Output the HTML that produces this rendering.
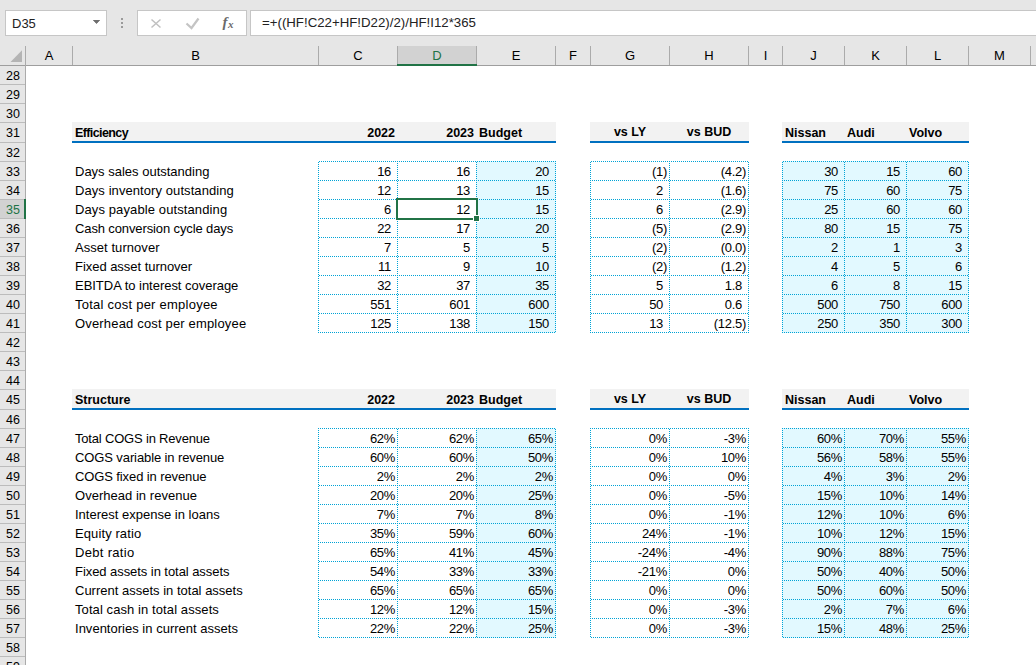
<!DOCTYPE html>
<html><head><meta charset="utf-8"><style>
html,body{margin:0;padding:0;}
body{width:1036px;height:665px;overflow:hidden;position:relative;background:#fff;font-family:'Liberation Sans', Arial, sans-serif;}
body>div{position:absolute;}
.t{white-space:nowrap;}
</style></head><body>
<div style="left:0px;top:0px;width:1036px;height:665px;background:#e6e6e6;"></div>
<div style="left:5px;top:10px;width:100px;height:24px;background:#fff;border:1px solid #c6c6c6"></div>
<div class="t" style="left:12px;top:16.00px;font-size:13px;line-height:15px;font-weight:normal;color:#222;font-family:'Liberation Sans', Arial, sans-serif;">D35</div>
<svg style="position:absolute;left:0;top:0" width="1036" height="46"><polygon points="93,20 100,20 96.5,23.8" fill="#6e6e6e"/><rect x="121" y="18" width="2" height="2" fill="#9a9a9a"/><rect x="121" y="22" width="2" height="2" fill="#9a9a9a"/><rect x="121" y="26" width="2" height="2" fill="#9a9a9a"/><path d="M151.5,19.5 L160.5,27.5 M160.5,19.5 L151.5,27.5" stroke="#c0c0c0" stroke-width="1.5" fill="none"/><path d="M186.5,23.5 L191.5,28 L198.5,18.5" stroke="#c4c4c4" stroke-width="2.2" fill="none"/></svg>
<div style="left:137px;top:10px;width:108px;height:24px;background:#fff;border:1px solid #c6c6c6"></div>
<div style="left:250px;top:10px;width:800px;height:24px;background:#fff;border:1px solid #c6c6c6"></div>
<svg style="position:absolute;left:0;top:0" width="1036" height="46"><polygon points="93,20 100,20 96.5,23.8" fill="#6e6e6e"/><path d="M151.5,19.5 L160.5,27.5 M160.5,19.5 L151.5,27.5" stroke="#c0c0c0" stroke-width="1.5" fill="none"/><path d="M186.5,23.5 L191.5,28 L198.5,18.5" stroke="#c4c4c4" stroke-width="2.2" fill="none"/></svg>
<div class="t" style="left:222.5px;top:12.5px;font-family:'Liberation Serif',serif;font-style:italic;font-weight:bold;font-size:15px;line-height:18px;color:#6a6a6a">f</div>
<div class="t" style="left:228px;top:17px;font-family:'Liberation Serif',serif;font-style:italic;font-weight:bold;font-size:11px;line-height:14px;color:#6a6a6a">x</div>
<div class="t" style="left:262px;top:14.91px;font-size:13.25px;line-height:15px;font-weight:normal;color:#222;font-family:'Liberation Sans', Arial, sans-serif;">=+((HF!C22+HF!D22)/2)/HF!I12*365</div>
<div style="left:398px;top:46px;width:78px;height:18px;background:#d2d2d2;"></div>
<div style="left:72px;top:46px;width:1px;height:19px;background:#ababab;"></div>
<div style="left:318px;top:46px;width:1px;height:19px;background:#ababab;"></div>
<div style="left:397px;top:46px;width:1px;height:19px;background:#ababab;"></div>
<div style="left:476px;top:46px;width:1px;height:19px;background:#ababab;"></div>
<div style="left:555px;top:46px;width:1px;height:19px;background:#ababab;"></div>
<div style="left:590px;top:46px;width:1px;height:19px;background:#ababab;"></div>
<div style="left:669px;top:46px;width:1px;height:19px;background:#ababab;"></div>
<div style="left:748px;top:46px;width:1px;height:19px;background:#ababab;"></div>
<div style="left:782px;top:46px;width:1px;height:19px;background:#ababab;"></div>
<div style="left:844px;top:46px;width:1px;height:19px;background:#ababab;"></div>
<div style="left:906px;top:46px;width:1px;height:19px;background:#ababab;"></div>
<div style="left:968px;top:46px;width:1px;height:19px;background:#ababab;"></div>
<div style="left:1030px;top:46px;width:1px;height:19px;background:#ababab;"></div>
<div style="left:397px;top:64px;width:80px;height:2px;background:#217346;"></div>
<div style="left:0px;top:65px;width:397px;height:1px;background:#9e9e9e;"></div>
<div style="left:477px;top:65px;width:559px;height:1px;background:#9e9e9e;"></div>
<div class="t" style="left:25.5px;width:47px;text-align:center;top:48.00px;font-size:13px;line-height:15px;font-weight:normal;color:#000;font-family:'Liberation Sans', Arial, sans-serif;">A</div>
<div class="t" style="left:72.5px;width:246px;text-align:center;top:48.00px;font-size:13px;line-height:15px;font-weight:normal;color:#000;font-family:'Liberation Sans', Arial, sans-serif;">B</div>
<div class="t" style="left:318.5px;width:79px;text-align:center;top:48.00px;font-size:13px;line-height:15px;font-weight:normal;color:#000;font-family:'Liberation Sans', Arial, sans-serif;">C</div>
<div class="t" style="left:397.5px;width:79px;text-align:center;top:48.00px;font-size:13px;line-height:15px;font-weight:normal;color:#217346;font-family:'Liberation Sans', Arial, sans-serif;">D</div>
<div class="t" style="left:476.5px;width:79px;text-align:center;top:48.00px;font-size:13px;line-height:15px;font-weight:normal;color:#000;font-family:'Liberation Sans', Arial, sans-serif;">E</div>
<div class="t" style="left:555.5px;width:35px;text-align:center;top:48.00px;font-size:13px;line-height:15px;font-weight:normal;color:#000;font-family:'Liberation Sans', Arial, sans-serif;">F</div>
<div class="t" style="left:590.5px;width:79px;text-align:center;top:48.00px;font-size:13px;line-height:15px;font-weight:normal;color:#000;font-family:'Liberation Sans', Arial, sans-serif;">G</div>
<div class="t" style="left:669.5px;width:79px;text-align:center;top:48.00px;font-size:13px;line-height:15px;font-weight:normal;color:#000;font-family:'Liberation Sans', Arial, sans-serif;">H</div>
<div class="t" style="left:748.5px;width:34px;text-align:center;top:48.00px;font-size:13px;line-height:15px;font-weight:normal;color:#000;font-family:'Liberation Sans', Arial, sans-serif;">I</div>
<div class="t" style="left:782.5px;width:62px;text-align:center;top:48.00px;font-size:13px;line-height:15px;font-weight:normal;color:#000;font-family:'Liberation Sans', Arial, sans-serif;">J</div>
<div class="t" style="left:844.5px;width:62px;text-align:center;top:48.00px;font-size:13px;line-height:15px;font-weight:normal;color:#000;font-family:'Liberation Sans', Arial, sans-serif;">K</div>
<div class="t" style="left:906.5px;width:62px;text-align:center;top:48.00px;font-size:13px;line-height:15px;font-weight:normal;color:#000;font-family:'Liberation Sans', Arial, sans-serif;">L</div>
<div class="t" style="left:968.5px;width:62px;text-align:center;top:48.00px;font-size:13px;line-height:15px;font-weight:normal;color:#000;font-family:'Liberation Sans', Arial, sans-serif;">M</div>
<svg style="position:absolute;left:0;top:46px" width="25" height="19"><polygon points="10.5,16 22,16 22,4.3" fill="#b4b4b4"/></svg>
<div style="left:25px;top:46px;width:1px;height:619px;background:#ababab;"></div>
<div style="left:0px;top:66px;width:25px;height:599px;background:#e6e6e6;"></div>
<div style="left:0px;top:200px;width:24px;height:18px;background:#d2d2d2;"></div>
<div style="left:0px;top:84px;width:25px;height:1px;background:#bcbcbc;"></div>
<div style="left:0px;top:103px;width:25px;height:1px;background:#bcbcbc;"></div>
<div style="left:0px;top:122px;width:25px;height:1px;background:#bcbcbc;"></div>
<div style="left:0px;top:142px;width:25px;height:1px;background:#bcbcbc;"></div>
<div style="left:0px;top:161px;width:25px;height:1px;background:#bcbcbc;"></div>
<div style="left:0px;top:180px;width:25px;height:1px;background:#bcbcbc;"></div>
<div style="left:0px;top:199px;width:25px;height:1px;background:#bcbcbc;"></div>
<div style="left:0px;top:218px;width:25px;height:1px;background:#bcbcbc;"></div>
<div style="left:0px;top:237px;width:25px;height:1px;background:#bcbcbc;"></div>
<div style="left:0px;top:256px;width:25px;height:1px;background:#bcbcbc;"></div>
<div style="left:0px;top:275px;width:25px;height:1px;background:#bcbcbc;"></div>
<div style="left:0px;top:294px;width:25px;height:1px;background:#bcbcbc;"></div>
<div style="left:0px;top:313px;width:25px;height:1px;background:#bcbcbc;"></div>
<div style="left:0px;top:332px;width:25px;height:1px;background:#bcbcbc;"></div>
<div style="left:0px;top:351px;width:25px;height:1px;background:#bcbcbc;"></div>
<div style="left:0px;top:370px;width:25px;height:1px;background:#bcbcbc;"></div>
<div style="left:0px;top:389px;width:25px;height:1px;background:#bcbcbc;"></div>
<div style="left:0px;top:409px;width:25px;height:1px;background:#bcbcbc;"></div>
<div style="left:0px;top:428px;width:25px;height:1px;background:#bcbcbc;"></div>
<div style="left:0px;top:447px;width:25px;height:1px;background:#bcbcbc;"></div>
<div style="left:0px;top:466px;width:25px;height:1px;background:#bcbcbc;"></div>
<div style="left:0px;top:485px;width:25px;height:1px;background:#bcbcbc;"></div>
<div style="left:0px;top:504px;width:25px;height:1px;background:#bcbcbc;"></div>
<div style="left:0px;top:523px;width:25px;height:1px;background:#bcbcbc;"></div>
<div style="left:0px;top:542px;width:25px;height:1px;background:#bcbcbc;"></div>
<div style="left:0px;top:561px;width:25px;height:1px;background:#bcbcbc;"></div>
<div style="left:0px;top:580px;width:25px;height:1px;background:#bcbcbc;"></div>
<div style="left:0px;top:599px;width:25px;height:1px;background:#bcbcbc;"></div>
<div style="left:0px;top:618px;width:25px;height:1px;background:#bcbcbc;"></div>
<div style="left:0px;top:637px;width:25px;height:1px;background:#bcbcbc;"></div>
<div style="left:0px;top:656px;width:25px;height:1px;background:#bcbcbc;"></div>
<div style="left:0px;top:675px;width:25px;height:1px;background:#bcbcbc;"></div>
<div style="left:24px;top:199px;width:2px;height:20px;background:#217346;"></div>
<div class="t" style="left:1.0px;width:24px;text-align:center;top:68.67px;font-size:12.5px;line-height:14px;font-weight:normal;color:#000;font-family:'Liberation Sans', Arial, sans-serif;">28</div>
<div class="t" style="left:1.0px;width:24px;text-align:center;top:87.67px;font-size:12.5px;line-height:14px;font-weight:normal;color:#000;font-family:'Liberation Sans', Arial, sans-serif;">29</div>
<div class="t" style="left:1.0px;width:24px;text-align:center;top:106.67px;font-size:12.5px;line-height:14px;font-weight:normal;color:#000;font-family:'Liberation Sans', Arial, sans-serif;">30</div>
<div class="t" style="left:1.0px;width:24px;text-align:center;top:125.67px;font-size:12.5px;line-height:14px;font-weight:normal;color:#000;font-family:'Liberation Sans', Arial, sans-serif;">31</div>
<div class="t" style="left:1.0px;width:24px;text-align:center;top:145.67px;font-size:12.5px;line-height:14px;font-weight:normal;color:#000;font-family:'Liberation Sans', Arial, sans-serif;">32</div>
<div class="t" style="left:1.0px;width:24px;text-align:center;top:164.67px;font-size:12.5px;line-height:14px;font-weight:normal;color:#000;font-family:'Liberation Sans', Arial, sans-serif;">33</div>
<div class="t" style="left:1.0px;width:24px;text-align:center;top:183.67px;font-size:12.5px;line-height:14px;font-weight:normal;color:#000;font-family:'Liberation Sans', Arial, sans-serif;">34</div>
<div class="t" style="left:1.0px;width:24px;text-align:center;top:202.67px;font-size:12.5px;line-height:14px;font-weight:normal;color:#217346;font-family:'Liberation Sans', Arial, sans-serif;">35</div>
<div class="t" style="left:1.0px;width:24px;text-align:center;top:221.67px;font-size:12.5px;line-height:14px;font-weight:normal;color:#000;font-family:'Liberation Sans', Arial, sans-serif;">36</div>
<div class="t" style="left:1.0px;width:24px;text-align:center;top:240.67px;font-size:12.5px;line-height:14px;font-weight:normal;color:#000;font-family:'Liberation Sans', Arial, sans-serif;">37</div>
<div class="t" style="left:1.0px;width:24px;text-align:center;top:259.67px;font-size:12.5px;line-height:14px;font-weight:normal;color:#000;font-family:'Liberation Sans', Arial, sans-serif;">38</div>
<div class="t" style="left:1.0px;width:24px;text-align:center;top:278.67px;font-size:12.5px;line-height:14px;font-weight:normal;color:#000;font-family:'Liberation Sans', Arial, sans-serif;">39</div>
<div class="t" style="left:1.0px;width:24px;text-align:center;top:297.67px;font-size:12.5px;line-height:14px;font-weight:normal;color:#000;font-family:'Liberation Sans', Arial, sans-serif;">40</div>
<div class="t" style="left:1.0px;width:24px;text-align:center;top:316.67px;font-size:12.5px;line-height:14px;font-weight:normal;color:#000;font-family:'Liberation Sans', Arial, sans-serif;">41</div>
<div class="t" style="left:1.0px;width:24px;text-align:center;top:335.67px;font-size:12.5px;line-height:14px;font-weight:normal;color:#000;font-family:'Liberation Sans', Arial, sans-serif;">42</div>
<div class="t" style="left:1.0px;width:24px;text-align:center;top:354.67px;font-size:12.5px;line-height:14px;font-weight:normal;color:#000;font-family:'Liberation Sans', Arial, sans-serif;">43</div>
<div class="t" style="left:1.0px;width:24px;text-align:center;top:373.67px;font-size:12.5px;line-height:14px;font-weight:normal;color:#000;font-family:'Liberation Sans', Arial, sans-serif;">44</div>
<div class="t" style="left:1.0px;width:24px;text-align:center;top:392.67px;font-size:12.5px;line-height:14px;font-weight:normal;color:#000;font-family:'Liberation Sans', Arial, sans-serif;">45</div>
<div class="t" style="left:1.0px;width:24px;text-align:center;top:412.67px;font-size:12.5px;line-height:14px;font-weight:normal;color:#000;font-family:'Liberation Sans', Arial, sans-serif;">46</div>
<div class="t" style="left:1.0px;width:24px;text-align:center;top:431.67px;font-size:12.5px;line-height:14px;font-weight:normal;color:#000;font-family:'Liberation Sans', Arial, sans-serif;">47</div>
<div class="t" style="left:1.0px;width:24px;text-align:center;top:450.67px;font-size:12.5px;line-height:14px;font-weight:normal;color:#000;font-family:'Liberation Sans', Arial, sans-serif;">48</div>
<div class="t" style="left:1.0px;width:24px;text-align:center;top:469.67px;font-size:12.5px;line-height:14px;font-weight:normal;color:#000;font-family:'Liberation Sans', Arial, sans-serif;">49</div>
<div class="t" style="left:1.0px;width:24px;text-align:center;top:488.67px;font-size:12.5px;line-height:14px;font-weight:normal;color:#000;font-family:'Liberation Sans', Arial, sans-serif;">50</div>
<div class="t" style="left:1.0px;width:24px;text-align:center;top:507.67px;font-size:12.5px;line-height:14px;font-weight:normal;color:#000;font-family:'Liberation Sans', Arial, sans-serif;">51</div>
<div class="t" style="left:1.0px;width:24px;text-align:center;top:526.67px;font-size:12.5px;line-height:14px;font-weight:normal;color:#000;font-family:'Liberation Sans', Arial, sans-serif;">52</div>
<div class="t" style="left:1.0px;width:24px;text-align:center;top:545.67px;font-size:12.5px;line-height:14px;font-weight:normal;color:#000;font-family:'Liberation Sans', Arial, sans-serif;">53</div>
<div class="t" style="left:1.0px;width:24px;text-align:center;top:564.67px;font-size:12.5px;line-height:14px;font-weight:normal;color:#000;font-family:'Liberation Sans', Arial, sans-serif;">54</div>
<div class="t" style="left:1.0px;width:24px;text-align:center;top:583.67px;font-size:12.5px;line-height:14px;font-weight:normal;color:#000;font-family:'Liberation Sans', Arial, sans-serif;">55</div>
<div class="t" style="left:1.0px;width:24px;text-align:center;top:602.67px;font-size:12.5px;line-height:14px;font-weight:normal;color:#000;font-family:'Liberation Sans', Arial, sans-serif;">56</div>
<div class="t" style="left:1.0px;width:24px;text-align:center;top:621.67px;font-size:12.5px;line-height:14px;font-weight:normal;color:#000;font-family:'Liberation Sans', Arial, sans-serif;">57</div>
<div class="t" style="left:1.0px;width:24px;text-align:center;top:640.67px;font-size:12.5px;line-height:14px;font-weight:normal;color:#000;font-family:'Liberation Sans', Arial, sans-serif;">58</div>
<div class="t" style="left:1.0px;width:24px;text-align:center;top:659.67px;font-size:12.5px;line-height:14px;font-weight:normal;color:#000;font-family:'Liberation Sans', Arial, sans-serif;">59</div>
<div style="left:26px;top:66px;width:1010px;height:599px;background:#fff;"></div>
<div style="left:72px;top:122px;width:484px;height:19px;background:#f2f2f2;"></div>
<div style="left:72px;top:141px;width:484px;height:2px;background:#0070c0;"></div>
<div style="left:590px;top:122px;width:159px;height:19px;background:#f2f2f2;"></div>
<div style="left:590px;top:141px;width:159px;height:2px;background:#0070c0;"></div>
<div style="left:782px;top:122px;width:187px;height:19px;background:#f2f2f2;"></div>
<div style="left:782px;top:141px;width:187px;height:2px;background:#0070c0;"></div>
<div class="t" style="left:75px;top:125.67px;font-size:12.5px;line-height:14px;font-weight:bold;color:#000;font-family:'Liberation Sans', Arial, sans-serif;letter-spacing:-0.6px">Efficiency</div>
<div class="t" style="right:641px;top:125.67px;font-size:12.5px;line-height:14px;font-weight:bold;color:#000;font-family:'Liberation Sans', Arial, sans-serif;;text-align:right">2022</div>
<div class="t" style="right:562px;top:125.67px;font-size:12.5px;line-height:14px;font-weight:bold;color:#000;font-family:'Liberation Sans', Arial, sans-serif;;text-align:right">2023</div>
<div class="t" style="left:479px;top:125.67px;font-size:12.5px;line-height:14px;font-weight:bold;color:#000;font-family:'Liberation Sans', Arial, sans-serif;">Budget</div>
<div class="t" style="left:591.0px;width:78px;text-align:center;top:124.67px;font-size:12.5px;line-height:14px;font-weight:bold;color:#000;font-family:'Liberation Sans', Arial, sans-serif;">vs LY</div>
<div class="t" style="left:670.0px;width:78px;text-align:center;top:124.67px;font-size:12.5px;line-height:14px;font-weight:bold;color:#000;font-family:'Liberation Sans', Arial, sans-serif;">vs BUD</div>
<div class="t" style="left:785px;top:125.67px;font-size:12.5px;line-height:14px;font-weight:bold;color:#000;font-family:'Liberation Sans', Arial, sans-serif;">Nissan</div>
<div class="t" style="left:847px;top:125.67px;font-size:12.5px;line-height:14px;font-weight:bold;color:#000;font-family:'Liberation Sans', Arial, sans-serif;">Audi</div>
<div class="t" style="left:909px;top:125.67px;font-size:12.5px;line-height:14px;font-weight:bold;color:#000;font-family:'Liberation Sans', Arial, sans-serif;">Volvo</div>
<div style="left:476px;top:161px;width:80px;height:172px;background:#e2f9ff;"></div>
<div style="left:318px;top:161px;width:238px;height:1px;background:repeating-linear-gradient(to right,transparent 0 1px,#00a3d6 1px 2px)"></div>
<div style="left:318px;top:180px;width:238px;height:1px;background:repeating-linear-gradient(to right,#00a3d6 0 1px,transparent 1px 2px)"></div>
<div style="left:318px;top:199px;width:238px;height:1px;background:repeating-linear-gradient(to right,transparent 0 1px,#00a3d6 1px 2px)"></div>
<div style="left:318px;top:218px;width:238px;height:1px;background:repeating-linear-gradient(to right,#00a3d6 0 1px,transparent 1px 2px)"></div>
<div style="left:318px;top:237px;width:238px;height:1px;background:repeating-linear-gradient(to right,transparent 0 1px,#00a3d6 1px 2px)"></div>
<div style="left:318px;top:256px;width:238px;height:1px;background:repeating-linear-gradient(to right,#00a3d6 0 1px,transparent 1px 2px)"></div>
<div style="left:318px;top:275px;width:238px;height:1px;background:repeating-linear-gradient(to right,transparent 0 1px,#00a3d6 1px 2px)"></div>
<div style="left:318px;top:294px;width:238px;height:1px;background:repeating-linear-gradient(to right,#00a3d6 0 1px,transparent 1px 2px)"></div>
<div style="left:318px;top:313px;width:238px;height:1px;background:repeating-linear-gradient(to right,transparent 0 1px,#00a3d6 1px 2px)"></div>
<div style="left:318px;top:332px;width:238px;height:1px;background:repeating-linear-gradient(to right,#00a3d6 0 1px,transparent 1px 2px)"></div>
<div style="left:318px;top:161px;width:1px;height:172px;background:repeating-linear-gradient(to bottom,transparent 0 1px,#00a3d6 1px 2px)"></div>
<div style="left:397px;top:161px;width:1px;height:172px;background:repeating-linear-gradient(to bottom,#00a3d6 0 1px,transparent 1px 2px)"></div>
<div style="left:476px;top:161px;width:1px;height:172px;background:repeating-linear-gradient(to bottom,transparent 0 1px,#00a3d6 1px 2px)"></div>
<div style="left:555px;top:161px;width:1px;height:172px;background:repeating-linear-gradient(to bottom,#00a3d6 0 1px,transparent 1px 2px)"></div>
<div style="left:590px;top:161px;width:159px;height:1px;background:repeating-linear-gradient(to right,transparent 0 1px,#00a3d6 1px 2px)"></div>
<div style="left:590px;top:180px;width:159px;height:1px;background:repeating-linear-gradient(to right,#00a3d6 0 1px,transparent 1px 2px)"></div>
<div style="left:590px;top:199px;width:159px;height:1px;background:repeating-linear-gradient(to right,transparent 0 1px,#00a3d6 1px 2px)"></div>
<div style="left:590px;top:218px;width:159px;height:1px;background:repeating-linear-gradient(to right,#00a3d6 0 1px,transparent 1px 2px)"></div>
<div style="left:590px;top:237px;width:159px;height:1px;background:repeating-linear-gradient(to right,transparent 0 1px,#00a3d6 1px 2px)"></div>
<div style="left:590px;top:256px;width:159px;height:1px;background:repeating-linear-gradient(to right,#00a3d6 0 1px,transparent 1px 2px)"></div>
<div style="left:590px;top:275px;width:159px;height:1px;background:repeating-linear-gradient(to right,transparent 0 1px,#00a3d6 1px 2px)"></div>
<div style="left:590px;top:294px;width:159px;height:1px;background:repeating-linear-gradient(to right,#00a3d6 0 1px,transparent 1px 2px)"></div>
<div style="left:590px;top:313px;width:159px;height:1px;background:repeating-linear-gradient(to right,transparent 0 1px,#00a3d6 1px 2px)"></div>
<div style="left:590px;top:332px;width:159px;height:1px;background:repeating-linear-gradient(to right,#00a3d6 0 1px,transparent 1px 2px)"></div>
<div style="left:590px;top:161px;width:1px;height:172px;background:repeating-linear-gradient(to bottom,transparent 0 1px,#00a3d6 1px 2px)"></div>
<div style="left:669px;top:161px;width:1px;height:172px;background:repeating-linear-gradient(to bottom,#00a3d6 0 1px,transparent 1px 2px)"></div>
<div style="left:748px;top:161px;width:1px;height:172px;background:repeating-linear-gradient(to bottom,transparent 0 1px,#00a3d6 1px 2px)"></div>
<div style="left:782px;top:161px;width:63px;height:172px;background:#e2f9ff;"></div>
<div style="left:844px;top:161px;width:63px;height:172px;background:#e2f9ff;"></div>
<div style="left:906px;top:161px;width:63px;height:172px;background:#e2f9ff;"></div>
<div style="left:782px;top:161px;width:187px;height:1px;background:repeating-linear-gradient(to right,transparent 0 1px,#00a3d6 1px 2px)"></div>
<div style="left:782px;top:180px;width:187px;height:1px;background:repeating-linear-gradient(to right,#00a3d6 0 1px,transparent 1px 2px)"></div>
<div style="left:782px;top:199px;width:187px;height:1px;background:repeating-linear-gradient(to right,transparent 0 1px,#00a3d6 1px 2px)"></div>
<div style="left:782px;top:218px;width:187px;height:1px;background:repeating-linear-gradient(to right,#00a3d6 0 1px,transparent 1px 2px)"></div>
<div style="left:782px;top:237px;width:187px;height:1px;background:repeating-linear-gradient(to right,transparent 0 1px,#00a3d6 1px 2px)"></div>
<div style="left:782px;top:256px;width:187px;height:1px;background:repeating-linear-gradient(to right,#00a3d6 0 1px,transparent 1px 2px)"></div>
<div style="left:782px;top:275px;width:187px;height:1px;background:repeating-linear-gradient(to right,transparent 0 1px,#00a3d6 1px 2px)"></div>
<div style="left:782px;top:294px;width:187px;height:1px;background:repeating-linear-gradient(to right,#00a3d6 0 1px,transparent 1px 2px)"></div>
<div style="left:782px;top:313px;width:187px;height:1px;background:repeating-linear-gradient(to right,transparent 0 1px,#00a3d6 1px 2px)"></div>
<div style="left:782px;top:332px;width:187px;height:1px;background:repeating-linear-gradient(to right,#00a3d6 0 1px,transparent 1px 2px)"></div>
<div style="left:782px;top:161px;width:1px;height:172px;background:repeating-linear-gradient(to bottom,transparent 0 1px,#00a3d6 1px 2px)"></div>
<div style="left:844px;top:161px;width:1px;height:172px;background:repeating-linear-gradient(to bottom,transparent 0 1px,#00a3d6 1px 2px)"></div>
<div style="left:906px;top:161px;width:1px;height:172px;background:repeating-linear-gradient(to bottom,transparent 0 1px,#00a3d6 1px 2px)"></div>
<div style="left:968px;top:161px;width:1px;height:172px;background:repeating-linear-gradient(to bottom,transparent 0 1px,#00a3d6 1px 2px)"></div>
<div class="t" style="left:75px;top:164.00px;font-size:13px;line-height:15px;font-weight:normal;color:#000;font-family:'Liberation Sans', Arial, sans-serif;letter-spacing:0.000px">Days sales outstanding</div>
<div class="t" style="left:75px;top:183.00px;font-size:13px;line-height:15px;font-weight:normal;color:#000;font-family:'Liberation Sans', Arial, sans-serif;letter-spacing:0.080px">Days inventory outstanding</div>
<div class="t" style="left:75px;top:202.00px;font-size:13px;line-height:15px;font-weight:normal;color:#000;font-family:'Liberation Sans', Arial, sans-serif;letter-spacing:0.109px">Days payable outstanding</div>
<div class="t" style="left:75px;top:221.00px;font-size:13px;line-height:15px;font-weight:normal;color:#000;font-family:'Liberation Sans', Arial, sans-serif;letter-spacing:-0.120px">Cash conversion cycle days</div>
<div class="t" style="left:75px;top:240.00px;font-size:13px;line-height:15px;font-weight:normal;color:#000;font-family:'Liberation Sans', Arial, sans-serif;letter-spacing:0.054px">Asset turnover</div>
<div class="t" style="left:75px;top:259.00px;font-size:13px;line-height:15px;font-weight:normal;color:#000;font-family:'Liberation Sans', Arial, sans-serif;letter-spacing:-0.037px">Fixed asset turnover</div>
<div class="t" style="left:75px;top:278.00px;font-size:13px;line-height:15px;font-weight:normal;color:#000;font-family:'Liberation Sans', Arial, sans-serif;letter-spacing:-0.027px">EBITDA to interest coverage</div>
<div class="t" style="left:75px;top:297.00px;font-size:13px;line-height:15px;font-weight:normal;color:#000;font-family:'Liberation Sans', Arial, sans-serif;letter-spacing:0.241px">Total cost per employee</div>
<div class="t" style="left:75px;top:316.00px;font-size:13px;line-height:15px;font-weight:normal;color:#000;font-family:'Liberation Sans', Arial, sans-serif;letter-spacing:0.168px">Overhead cost per employee</div>
<div class="t" style="right:645px;top:164.00px;font-size:13px;line-height:15px;font-weight:normal;color:#000;font-family:'Liberation Sans', Arial, sans-serif;letter-spacing:-0.3px;text-align:right">16</div>
<div class="t" style="right:645px;top:183.00px;font-size:13px;line-height:15px;font-weight:normal;color:#000;font-family:'Liberation Sans', Arial, sans-serif;letter-spacing:-0.3px;text-align:right">12</div>
<div class="t" style="right:645px;top:202.00px;font-size:13px;line-height:15px;font-weight:normal;color:#000;font-family:'Liberation Sans', Arial, sans-serif;letter-spacing:-0.3px;text-align:right">6</div>
<div class="t" style="right:645px;top:221.00px;font-size:13px;line-height:15px;font-weight:normal;color:#000;font-family:'Liberation Sans', Arial, sans-serif;letter-spacing:-0.3px;text-align:right">22</div>
<div class="t" style="right:645px;top:240.00px;font-size:13px;line-height:15px;font-weight:normal;color:#000;font-family:'Liberation Sans', Arial, sans-serif;letter-spacing:-0.3px;text-align:right">7</div>
<div class="t" style="right:645px;top:259.00px;font-size:13px;line-height:15px;font-weight:normal;color:#000;font-family:'Liberation Sans', Arial, sans-serif;letter-spacing:-0.3px;text-align:right">11</div>
<div class="t" style="right:645px;top:278.00px;font-size:13px;line-height:15px;font-weight:normal;color:#000;font-family:'Liberation Sans', Arial, sans-serif;letter-spacing:-0.3px;text-align:right">32</div>
<div class="t" style="right:645px;top:297.00px;font-size:13px;line-height:15px;font-weight:normal;color:#000;font-family:'Liberation Sans', Arial, sans-serif;letter-spacing:-0.3px;text-align:right">551</div>
<div class="t" style="right:645px;top:316.00px;font-size:13px;line-height:15px;font-weight:normal;color:#000;font-family:'Liberation Sans', Arial, sans-serif;letter-spacing:-0.3px;text-align:right">125</div>
<div class="t" style="right:566px;top:164.00px;font-size:13px;line-height:15px;font-weight:normal;color:#000;font-family:'Liberation Sans', Arial, sans-serif;letter-spacing:-0.3px;text-align:right">16</div>
<div class="t" style="right:566px;top:183.00px;font-size:13px;line-height:15px;font-weight:normal;color:#000;font-family:'Liberation Sans', Arial, sans-serif;letter-spacing:-0.3px;text-align:right">13</div>
<div class="t" style="right:566px;top:202.00px;font-size:13px;line-height:15px;font-weight:normal;color:#000;font-family:'Liberation Sans', Arial, sans-serif;letter-spacing:-0.3px;text-align:right">12</div>
<div class="t" style="right:566px;top:221.00px;font-size:13px;line-height:15px;font-weight:normal;color:#000;font-family:'Liberation Sans', Arial, sans-serif;letter-spacing:-0.3px;text-align:right">17</div>
<div class="t" style="right:566px;top:240.00px;font-size:13px;line-height:15px;font-weight:normal;color:#000;font-family:'Liberation Sans', Arial, sans-serif;letter-spacing:-0.3px;text-align:right">5</div>
<div class="t" style="right:566px;top:259.00px;font-size:13px;line-height:15px;font-weight:normal;color:#000;font-family:'Liberation Sans', Arial, sans-serif;letter-spacing:-0.3px;text-align:right">9</div>
<div class="t" style="right:566px;top:278.00px;font-size:13px;line-height:15px;font-weight:normal;color:#000;font-family:'Liberation Sans', Arial, sans-serif;letter-spacing:-0.3px;text-align:right">37</div>
<div class="t" style="right:566px;top:297.00px;font-size:13px;line-height:15px;font-weight:normal;color:#000;font-family:'Liberation Sans', Arial, sans-serif;letter-spacing:-0.3px;text-align:right">601</div>
<div class="t" style="right:566px;top:316.00px;font-size:13px;line-height:15px;font-weight:normal;color:#000;font-family:'Liberation Sans', Arial, sans-serif;letter-spacing:-0.3px;text-align:right">138</div>
<div class="t" style="right:487px;top:164.00px;font-size:13px;line-height:15px;font-weight:normal;color:#000;font-family:'Liberation Sans', Arial, sans-serif;letter-spacing:-0.3px;text-align:right">20</div>
<div class="t" style="right:487px;top:183.00px;font-size:13px;line-height:15px;font-weight:normal;color:#000;font-family:'Liberation Sans', Arial, sans-serif;letter-spacing:-0.3px;text-align:right">15</div>
<div class="t" style="right:487px;top:202.00px;font-size:13px;line-height:15px;font-weight:normal;color:#000;font-family:'Liberation Sans', Arial, sans-serif;letter-spacing:-0.3px;text-align:right">15</div>
<div class="t" style="right:487px;top:221.00px;font-size:13px;line-height:15px;font-weight:normal;color:#000;font-family:'Liberation Sans', Arial, sans-serif;letter-spacing:-0.3px;text-align:right">20</div>
<div class="t" style="right:487px;top:240.00px;font-size:13px;line-height:15px;font-weight:normal;color:#000;font-family:'Liberation Sans', Arial, sans-serif;letter-spacing:-0.3px;text-align:right">5</div>
<div class="t" style="right:487px;top:259.00px;font-size:13px;line-height:15px;font-weight:normal;color:#000;font-family:'Liberation Sans', Arial, sans-serif;letter-spacing:-0.3px;text-align:right">10</div>
<div class="t" style="right:487px;top:278.00px;font-size:13px;line-height:15px;font-weight:normal;color:#000;font-family:'Liberation Sans', Arial, sans-serif;letter-spacing:-0.3px;text-align:right">35</div>
<div class="t" style="right:487px;top:297.00px;font-size:13px;line-height:15px;font-weight:normal;color:#000;font-family:'Liberation Sans', Arial, sans-serif;letter-spacing:-0.3px;text-align:right">600</div>
<div class="t" style="right:487px;top:316.00px;font-size:13px;line-height:15px;font-weight:normal;color:#000;font-family:'Liberation Sans', Arial, sans-serif;letter-spacing:-0.3px;text-align:right">150</div>
<div class="t" style="right:369px;top:164.00px;font-size:13px;line-height:15px;font-weight:normal;color:#000;font-family:'Liberation Sans', Arial, sans-serif;letter-spacing:-0.3px;text-align:right">(1)</div>
<div class="t" style="right:373px;top:183.00px;font-size:13px;line-height:15px;font-weight:normal;color:#000;font-family:'Liberation Sans', Arial, sans-serif;letter-spacing:-0.3px;text-align:right">2</div>
<div class="t" style="right:373px;top:202.00px;font-size:13px;line-height:15px;font-weight:normal;color:#000;font-family:'Liberation Sans', Arial, sans-serif;letter-spacing:-0.3px;text-align:right">6</div>
<div class="t" style="right:369px;top:221.00px;font-size:13px;line-height:15px;font-weight:normal;color:#000;font-family:'Liberation Sans', Arial, sans-serif;letter-spacing:-0.3px;text-align:right">(5)</div>
<div class="t" style="right:369px;top:240.00px;font-size:13px;line-height:15px;font-weight:normal;color:#000;font-family:'Liberation Sans', Arial, sans-serif;letter-spacing:-0.3px;text-align:right">(2)</div>
<div class="t" style="right:369px;top:259.00px;font-size:13px;line-height:15px;font-weight:normal;color:#000;font-family:'Liberation Sans', Arial, sans-serif;letter-spacing:-0.3px;text-align:right">(2)</div>
<div class="t" style="right:373px;top:278.00px;font-size:13px;line-height:15px;font-weight:normal;color:#000;font-family:'Liberation Sans', Arial, sans-serif;letter-spacing:-0.3px;text-align:right">5</div>
<div class="t" style="right:373px;top:297.00px;font-size:13px;line-height:15px;font-weight:normal;color:#000;font-family:'Liberation Sans', Arial, sans-serif;letter-spacing:-0.3px;text-align:right">50</div>
<div class="t" style="right:373px;top:316.00px;font-size:13px;line-height:15px;font-weight:normal;color:#000;font-family:'Liberation Sans', Arial, sans-serif;letter-spacing:-0.3px;text-align:right">13</div>
<div class="t" style="right:290px;top:164.00px;font-size:13px;line-height:15px;font-weight:normal;color:#000;font-family:'Liberation Sans', Arial, sans-serif;letter-spacing:-0.3px;text-align:right">(4.2)</div>
<div class="t" style="right:290px;top:183.00px;font-size:13px;line-height:15px;font-weight:normal;color:#000;font-family:'Liberation Sans', Arial, sans-serif;letter-spacing:-0.3px;text-align:right">(1.6)</div>
<div class="t" style="right:290px;top:202.00px;font-size:13px;line-height:15px;font-weight:normal;color:#000;font-family:'Liberation Sans', Arial, sans-serif;letter-spacing:-0.3px;text-align:right">(2.9)</div>
<div class="t" style="right:290px;top:221.00px;font-size:13px;line-height:15px;font-weight:normal;color:#000;font-family:'Liberation Sans', Arial, sans-serif;letter-spacing:-0.3px;text-align:right">(2.9)</div>
<div class="t" style="right:290px;top:240.00px;font-size:13px;line-height:15px;font-weight:normal;color:#000;font-family:'Liberation Sans', Arial, sans-serif;letter-spacing:-0.3px;text-align:right">(0.0)</div>
<div class="t" style="right:290px;top:259.00px;font-size:13px;line-height:15px;font-weight:normal;color:#000;font-family:'Liberation Sans', Arial, sans-serif;letter-spacing:-0.3px;text-align:right">(1.2)</div>
<div class="t" style="right:294px;top:278.00px;font-size:13px;line-height:15px;font-weight:normal;color:#000;font-family:'Liberation Sans', Arial, sans-serif;letter-spacing:-0.3px;text-align:right">1.8</div>
<div class="t" style="right:294px;top:297.00px;font-size:13px;line-height:15px;font-weight:normal;color:#000;font-family:'Liberation Sans', Arial, sans-serif;letter-spacing:-0.3px;text-align:right">0.6</div>
<div class="t" style="right:290px;top:316.00px;font-size:13px;line-height:15px;font-weight:normal;color:#000;font-family:'Liberation Sans', Arial, sans-serif;letter-spacing:-0.3px;text-align:right">(12.5)</div>
<div class="t" style="right:198px;top:164.00px;font-size:13px;line-height:15px;font-weight:normal;color:#000;font-family:'Liberation Sans', Arial, sans-serif;letter-spacing:-0.3px;text-align:right">30</div>
<div class="t" style="right:198px;top:183.00px;font-size:13px;line-height:15px;font-weight:normal;color:#000;font-family:'Liberation Sans', Arial, sans-serif;letter-spacing:-0.3px;text-align:right">75</div>
<div class="t" style="right:198px;top:202.00px;font-size:13px;line-height:15px;font-weight:normal;color:#000;font-family:'Liberation Sans', Arial, sans-serif;letter-spacing:-0.3px;text-align:right">25</div>
<div class="t" style="right:198px;top:221.00px;font-size:13px;line-height:15px;font-weight:normal;color:#000;font-family:'Liberation Sans', Arial, sans-serif;letter-spacing:-0.3px;text-align:right">80</div>
<div class="t" style="right:198px;top:240.00px;font-size:13px;line-height:15px;font-weight:normal;color:#000;font-family:'Liberation Sans', Arial, sans-serif;letter-spacing:-0.3px;text-align:right">2</div>
<div class="t" style="right:198px;top:259.00px;font-size:13px;line-height:15px;font-weight:normal;color:#000;font-family:'Liberation Sans', Arial, sans-serif;letter-spacing:-0.3px;text-align:right">4</div>
<div class="t" style="right:198px;top:278.00px;font-size:13px;line-height:15px;font-weight:normal;color:#000;font-family:'Liberation Sans', Arial, sans-serif;letter-spacing:-0.3px;text-align:right">6</div>
<div class="t" style="right:198px;top:297.00px;font-size:13px;line-height:15px;font-weight:normal;color:#000;font-family:'Liberation Sans', Arial, sans-serif;letter-spacing:-0.3px;text-align:right">500</div>
<div class="t" style="right:198px;top:316.00px;font-size:13px;line-height:15px;font-weight:normal;color:#000;font-family:'Liberation Sans', Arial, sans-serif;letter-spacing:-0.3px;text-align:right">250</div>
<div class="t" style="right:136px;top:164.00px;font-size:13px;line-height:15px;font-weight:normal;color:#000;font-family:'Liberation Sans', Arial, sans-serif;letter-spacing:-0.3px;text-align:right">15</div>
<div class="t" style="right:136px;top:183.00px;font-size:13px;line-height:15px;font-weight:normal;color:#000;font-family:'Liberation Sans', Arial, sans-serif;letter-spacing:-0.3px;text-align:right">60</div>
<div class="t" style="right:136px;top:202.00px;font-size:13px;line-height:15px;font-weight:normal;color:#000;font-family:'Liberation Sans', Arial, sans-serif;letter-spacing:-0.3px;text-align:right">60</div>
<div class="t" style="right:136px;top:221.00px;font-size:13px;line-height:15px;font-weight:normal;color:#000;font-family:'Liberation Sans', Arial, sans-serif;letter-spacing:-0.3px;text-align:right">15</div>
<div class="t" style="right:136px;top:240.00px;font-size:13px;line-height:15px;font-weight:normal;color:#000;font-family:'Liberation Sans', Arial, sans-serif;letter-spacing:-0.3px;text-align:right">1</div>
<div class="t" style="right:136px;top:259.00px;font-size:13px;line-height:15px;font-weight:normal;color:#000;font-family:'Liberation Sans', Arial, sans-serif;letter-spacing:-0.3px;text-align:right">5</div>
<div class="t" style="right:136px;top:278.00px;font-size:13px;line-height:15px;font-weight:normal;color:#000;font-family:'Liberation Sans', Arial, sans-serif;letter-spacing:-0.3px;text-align:right">8</div>
<div class="t" style="right:136px;top:297.00px;font-size:13px;line-height:15px;font-weight:normal;color:#000;font-family:'Liberation Sans', Arial, sans-serif;letter-spacing:-0.3px;text-align:right">750</div>
<div class="t" style="right:136px;top:316.00px;font-size:13px;line-height:15px;font-weight:normal;color:#000;font-family:'Liberation Sans', Arial, sans-serif;letter-spacing:-0.3px;text-align:right">350</div>
<div class="t" style="right:74px;top:164.00px;font-size:13px;line-height:15px;font-weight:normal;color:#000;font-family:'Liberation Sans', Arial, sans-serif;letter-spacing:-0.3px;text-align:right">60</div>
<div class="t" style="right:74px;top:183.00px;font-size:13px;line-height:15px;font-weight:normal;color:#000;font-family:'Liberation Sans', Arial, sans-serif;letter-spacing:-0.3px;text-align:right">75</div>
<div class="t" style="right:74px;top:202.00px;font-size:13px;line-height:15px;font-weight:normal;color:#000;font-family:'Liberation Sans', Arial, sans-serif;letter-spacing:-0.3px;text-align:right">60</div>
<div class="t" style="right:74px;top:221.00px;font-size:13px;line-height:15px;font-weight:normal;color:#000;font-family:'Liberation Sans', Arial, sans-serif;letter-spacing:-0.3px;text-align:right">75</div>
<div class="t" style="right:74px;top:240.00px;font-size:13px;line-height:15px;font-weight:normal;color:#000;font-family:'Liberation Sans', Arial, sans-serif;letter-spacing:-0.3px;text-align:right">3</div>
<div class="t" style="right:74px;top:259.00px;font-size:13px;line-height:15px;font-weight:normal;color:#000;font-family:'Liberation Sans', Arial, sans-serif;letter-spacing:-0.3px;text-align:right">6</div>
<div class="t" style="right:74px;top:278.00px;font-size:13px;line-height:15px;font-weight:normal;color:#000;font-family:'Liberation Sans', Arial, sans-serif;letter-spacing:-0.3px;text-align:right">15</div>
<div class="t" style="right:74px;top:297.00px;font-size:13px;line-height:15px;font-weight:normal;color:#000;font-family:'Liberation Sans', Arial, sans-serif;letter-spacing:-0.3px;text-align:right">600</div>
<div class="t" style="right:74px;top:316.00px;font-size:13px;line-height:15px;font-weight:normal;color:#000;font-family:'Liberation Sans', Arial, sans-serif;letter-spacing:-0.3px;text-align:right">300</div>
<div style="left:72px;top:389px;width:484px;height:19px;background:#f2f2f2;"></div>
<div style="left:72px;top:408px;width:484px;height:2px;background:#0070c0;"></div>
<div style="left:590px;top:389px;width:159px;height:19px;background:#f2f2f2;"></div>
<div style="left:590px;top:408px;width:159px;height:2px;background:#0070c0;"></div>
<div style="left:782px;top:389px;width:187px;height:19px;background:#f2f2f2;"></div>
<div style="left:782px;top:408px;width:187px;height:2px;background:#0070c0;"></div>
<div class="t" style="left:75px;top:392.67px;font-size:12.5px;line-height:14px;font-weight:bold;color:#000;font-family:'Liberation Sans', Arial, sans-serif;letter-spacing:0px">Structure</div>
<div class="t" style="right:641px;top:392.67px;font-size:12.5px;line-height:14px;font-weight:bold;color:#000;font-family:'Liberation Sans', Arial, sans-serif;;text-align:right">2022</div>
<div class="t" style="right:562px;top:392.67px;font-size:12.5px;line-height:14px;font-weight:bold;color:#000;font-family:'Liberation Sans', Arial, sans-serif;;text-align:right">2023</div>
<div class="t" style="left:479px;top:392.67px;font-size:12.5px;line-height:14px;font-weight:bold;color:#000;font-family:'Liberation Sans', Arial, sans-serif;">Budget</div>
<div class="t" style="left:591.0px;width:78px;text-align:center;top:391.67px;font-size:12.5px;line-height:14px;font-weight:bold;color:#000;font-family:'Liberation Sans', Arial, sans-serif;">vs LY</div>
<div class="t" style="left:670.0px;width:78px;text-align:center;top:391.67px;font-size:12.5px;line-height:14px;font-weight:bold;color:#000;font-family:'Liberation Sans', Arial, sans-serif;">vs BUD</div>
<div class="t" style="left:785px;top:392.67px;font-size:12.5px;line-height:14px;font-weight:bold;color:#000;font-family:'Liberation Sans', Arial, sans-serif;">Nissan</div>
<div class="t" style="left:847px;top:392.67px;font-size:12.5px;line-height:14px;font-weight:bold;color:#000;font-family:'Liberation Sans', Arial, sans-serif;">Audi</div>
<div class="t" style="left:909px;top:392.67px;font-size:12.5px;line-height:14px;font-weight:bold;color:#000;font-family:'Liberation Sans', Arial, sans-serif;">Volvo</div>
<div style="left:476px;top:428px;width:80px;height:210px;background:#e2f9ff;"></div>
<div style="left:318px;top:428px;width:238px;height:1px;background:repeating-linear-gradient(to right,#00a3d6 0 1px,transparent 1px 2px)"></div>
<div style="left:318px;top:447px;width:238px;height:1px;background:repeating-linear-gradient(to right,transparent 0 1px,#00a3d6 1px 2px)"></div>
<div style="left:318px;top:466px;width:238px;height:1px;background:repeating-linear-gradient(to right,#00a3d6 0 1px,transparent 1px 2px)"></div>
<div style="left:318px;top:485px;width:238px;height:1px;background:repeating-linear-gradient(to right,transparent 0 1px,#00a3d6 1px 2px)"></div>
<div style="left:318px;top:504px;width:238px;height:1px;background:repeating-linear-gradient(to right,#00a3d6 0 1px,transparent 1px 2px)"></div>
<div style="left:318px;top:523px;width:238px;height:1px;background:repeating-linear-gradient(to right,transparent 0 1px,#00a3d6 1px 2px)"></div>
<div style="left:318px;top:542px;width:238px;height:1px;background:repeating-linear-gradient(to right,#00a3d6 0 1px,transparent 1px 2px)"></div>
<div style="left:318px;top:561px;width:238px;height:1px;background:repeating-linear-gradient(to right,transparent 0 1px,#00a3d6 1px 2px)"></div>
<div style="left:318px;top:580px;width:238px;height:1px;background:repeating-linear-gradient(to right,#00a3d6 0 1px,transparent 1px 2px)"></div>
<div style="left:318px;top:599px;width:238px;height:1px;background:repeating-linear-gradient(to right,transparent 0 1px,#00a3d6 1px 2px)"></div>
<div style="left:318px;top:618px;width:238px;height:1px;background:repeating-linear-gradient(to right,#00a3d6 0 1px,transparent 1px 2px)"></div>
<div style="left:318px;top:637px;width:238px;height:1px;background:repeating-linear-gradient(to right,transparent 0 1px,#00a3d6 1px 2px)"></div>
<div style="left:318px;top:428px;width:1px;height:210px;background:repeating-linear-gradient(to bottom,#00a3d6 0 1px,transparent 1px 2px)"></div>
<div style="left:397px;top:428px;width:1px;height:210px;background:repeating-linear-gradient(to bottom,transparent 0 1px,#00a3d6 1px 2px)"></div>
<div style="left:476px;top:428px;width:1px;height:210px;background:repeating-linear-gradient(to bottom,#00a3d6 0 1px,transparent 1px 2px)"></div>
<div style="left:555px;top:428px;width:1px;height:210px;background:repeating-linear-gradient(to bottom,transparent 0 1px,#00a3d6 1px 2px)"></div>
<div style="left:590px;top:428px;width:159px;height:1px;background:repeating-linear-gradient(to right,#00a3d6 0 1px,transparent 1px 2px)"></div>
<div style="left:590px;top:447px;width:159px;height:1px;background:repeating-linear-gradient(to right,transparent 0 1px,#00a3d6 1px 2px)"></div>
<div style="left:590px;top:466px;width:159px;height:1px;background:repeating-linear-gradient(to right,#00a3d6 0 1px,transparent 1px 2px)"></div>
<div style="left:590px;top:485px;width:159px;height:1px;background:repeating-linear-gradient(to right,transparent 0 1px,#00a3d6 1px 2px)"></div>
<div style="left:590px;top:504px;width:159px;height:1px;background:repeating-linear-gradient(to right,#00a3d6 0 1px,transparent 1px 2px)"></div>
<div style="left:590px;top:523px;width:159px;height:1px;background:repeating-linear-gradient(to right,transparent 0 1px,#00a3d6 1px 2px)"></div>
<div style="left:590px;top:542px;width:159px;height:1px;background:repeating-linear-gradient(to right,#00a3d6 0 1px,transparent 1px 2px)"></div>
<div style="left:590px;top:561px;width:159px;height:1px;background:repeating-linear-gradient(to right,transparent 0 1px,#00a3d6 1px 2px)"></div>
<div style="left:590px;top:580px;width:159px;height:1px;background:repeating-linear-gradient(to right,#00a3d6 0 1px,transparent 1px 2px)"></div>
<div style="left:590px;top:599px;width:159px;height:1px;background:repeating-linear-gradient(to right,transparent 0 1px,#00a3d6 1px 2px)"></div>
<div style="left:590px;top:618px;width:159px;height:1px;background:repeating-linear-gradient(to right,#00a3d6 0 1px,transparent 1px 2px)"></div>
<div style="left:590px;top:637px;width:159px;height:1px;background:repeating-linear-gradient(to right,transparent 0 1px,#00a3d6 1px 2px)"></div>
<div style="left:590px;top:428px;width:1px;height:210px;background:repeating-linear-gradient(to bottom,#00a3d6 0 1px,transparent 1px 2px)"></div>
<div style="left:669px;top:428px;width:1px;height:210px;background:repeating-linear-gradient(to bottom,transparent 0 1px,#00a3d6 1px 2px)"></div>
<div style="left:748px;top:428px;width:1px;height:210px;background:repeating-linear-gradient(to bottom,#00a3d6 0 1px,transparent 1px 2px)"></div>
<div style="left:782px;top:428px;width:63px;height:210px;background:#e2f9ff;"></div>
<div style="left:844px;top:428px;width:63px;height:210px;background:#e2f9ff;"></div>
<div style="left:906px;top:428px;width:63px;height:210px;background:#e2f9ff;"></div>
<div style="left:782px;top:428px;width:187px;height:1px;background:repeating-linear-gradient(to right,#00a3d6 0 1px,transparent 1px 2px)"></div>
<div style="left:782px;top:447px;width:187px;height:1px;background:repeating-linear-gradient(to right,transparent 0 1px,#00a3d6 1px 2px)"></div>
<div style="left:782px;top:466px;width:187px;height:1px;background:repeating-linear-gradient(to right,#00a3d6 0 1px,transparent 1px 2px)"></div>
<div style="left:782px;top:485px;width:187px;height:1px;background:repeating-linear-gradient(to right,transparent 0 1px,#00a3d6 1px 2px)"></div>
<div style="left:782px;top:504px;width:187px;height:1px;background:repeating-linear-gradient(to right,#00a3d6 0 1px,transparent 1px 2px)"></div>
<div style="left:782px;top:523px;width:187px;height:1px;background:repeating-linear-gradient(to right,transparent 0 1px,#00a3d6 1px 2px)"></div>
<div style="left:782px;top:542px;width:187px;height:1px;background:repeating-linear-gradient(to right,#00a3d6 0 1px,transparent 1px 2px)"></div>
<div style="left:782px;top:561px;width:187px;height:1px;background:repeating-linear-gradient(to right,transparent 0 1px,#00a3d6 1px 2px)"></div>
<div style="left:782px;top:580px;width:187px;height:1px;background:repeating-linear-gradient(to right,#00a3d6 0 1px,transparent 1px 2px)"></div>
<div style="left:782px;top:599px;width:187px;height:1px;background:repeating-linear-gradient(to right,transparent 0 1px,#00a3d6 1px 2px)"></div>
<div style="left:782px;top:618px;width:187px;height:1px;background:repeating-linear-gradient(to right,#00a3d6 0 1px,transparent 1px 2px)"></div>
<div style="left:782px;top:637px;width:187px;height:1px;background:repeating-linear-gradient(to right,transparent 0 1px,#00a3d6 1px 2px)"></div>
<div style="left:782px;top:428px;width:1px;height:210px;background:repeating-linear-gradient(to bottom,#00a3d6 0 1px,transparent 1px 2px)"></div>
<div style="left:844px;top:428px;width:1px;height:210px;background:repeating-linear-gradient(to bottom,#00a3d6 0 1px,transparent 1px 2px)"></div>
<div style="left:906px;top:428px;width:1px;height:210px;background:repeating-linear-gradient(to bottom,#00a3d6 0 1px,transparent 1px 2px)"></div>
<div style="left:968px;top:428px;width:1px;height:210px;background:repeating-linear-gradient(to bottom,#00a3d6 0 1px,transparent 1px 2px)"></div>
<div class="t" style="left:75px;top:431.00px;font-size:13px;line-height:15px;font-weight:normal;color:#000;font-family:'Liberation Sans', Arial, sans-serif;letter-spacing:-0.185px">Total COGS in Revenue</div>
<div class="t" style="left:75px;top:450.00px;font-size:13px;line-height:15px;font-weight:normal;color:#000;font-family:'Liberation Sans', Arial, sans-serif;letter-spacing:-0.104px">COGS variable in revenue</div>
<div class="t" style="left:75px;top:469.00px;font-size:13px;line-height:15px;font-weight:normal;color:#000;font-family:'Liberation Sans', Arial, sans-serif;letter-spacing:-0.110px">COGS fixed in revenue</div>
<div class="t" style="left:75px;top:488.00px;font-size:13px;line-height:15px;font-weight:normal;color:#000;font-family:'Liberation Sans', Arial, sans-serif;letter-spacing:0.028px">Overhead in revenue</div>
<div class="t" style="left:75px;top:507.00px;font-size:13px;line-height:15px;font-weight:normal;color:#000;font-family:'Liberation Sans', Arial, sans-serif;letter-spacing:0.008px">Interest expense in loans</div>
<div class="t" style="left:75px;top:526.00px;font-size:13px;line-height:15px;font-weight:normal;color:#000;font-family:'Liberation Sans', Arial, sans-serif;letter-spacing:0.100px">Equity ratio</div>
<div class="t" style="left:75px;top:545.00px;font-size:13px;line-height:15px;font-weight:normal;color:#000;font-family:'Liberation Sans', Arial, sans-serif;letter-spacing:0.311px">Debt ratio</div>
<div class="t" style="left:75px;top:564.00px;font-size:13px;line-height:15px;font-weight:normal;color:#000;font-family:'Liberation Sans', Arial, sans-serif;letter-spacing:-0.059px">Fixed assets in total assets</div>
<div class="t" style="left:75px;top:583.00px;font-size:13px;line-height:15px;font-weight:normal;color:#000;font-family:'Liberation Sans', Arial, sans-serif;letter-spacing:0.003px">Current assets in total assets</div>
<div class="t" style="left:75px;top:602.00px;font-size:13px;line-height:15px;font-weight:normal;color:#000;font-family:'Liberation Sans', Arial, sans-serif;letter-spacing:0.088px">Total cash in total assets</div>
<div class="t" style="left:75px;top:621.00px;font-size:13px;line-height:15px;font-weight:normal;color:#000;font-family:'Liberation Sans', Arial, sans-serif;letter-spacing:0.014px">Inventories in current assets</div>
<div class="t" style="right:641px;top:431.00px;font-size:13px;line-height:15px;font-weight:normal;color:#000;font-family:'Liberation Sans', Arial, sans-serif;letter-spacing:-0.3px;text-align:right">62%</div>
<div class="t" style="right:641px;top:450.00px;font-size:13px;line-height:15px;font-weight:normal;color:#000;font-family:'Liberation Sans', Arial, sans-serif;letter-spacing:-0.3px;text-align:right">60%</div>
<div class="t" style="right:641px;top:469.00px;font-size:13px;line-height:15px;font-weight:normal;color:#000;font-family:'Liberation Sans', Arial, sans-serif;letter-spacing:-0.3px;text-align:right">2%</div>
<div class="t" style="right:641px;top:488.00px;font-size:13px;line-height:15px;font-weight:normal;color:#000;font-family:'Liberation Sans', Arial, sans-serif;letter-spacing:-0.3px;text-align:right">20%</div>
<div class="t" style="right:641px;top:507.00px;font-size:13px;line-height:15px;font-weight:normal;color:#000;font-family:'Liberation Sans', Arial, sans-serif;letter-spacing:-0.3px;text-align:right">7%</div>
<div class="t" style="right:641px;top:526.00px;font-size:13px;line-height:15px;font-weight:normal;color:#000;font-family:'Liberation Sans', Arial, sans-serif;letter-spacing:-0.3px;text-align:right">35%</div>
<div class="t" style="right:641px;top:545.00px;font-size:13px;line-height:15px;font-weight:normal;color:#000;font-family:'Liberation Sans', Arial, sans-serif;letter-spacing:-0.3px;text-align:right">65%</div>
<div class="t" style="right:641px;top:564.00px;font-size:13px;line-height:15px;font-weight:normal;color:#000;font-family:'Liberation Sans', Arial, sans-serif;letter-spacing:-0.3px;text-align:right">54%</div>
<div class="t" style="right:641px;top:583.00px;font-size:13px;line-height:15px;font-weight:normal;color:#000;font-family:'Liberation Sans', Arial, sans-serif;letter-spacing:-0.3px;text-align:right">65%</div>
<div class="t" style="right:641px;top:602.00px;font-size:13px;line-height:15px;font-weight:normal;color:#000;font-family:'Liberation Sans', Arial, sans-serif;letter-spacing:-0.3px;text-align:right">12%</div>
<div class="t" style="right:641px;top:621.00px;font-size:13px;line-height:15px;font-weight:normal;color:#000;font-family:'Liberation Sans', Arial, sans-serif;letter-spacing:-0.3px;text-align:right">22%</div>
<div class="t" style="right:562px;top:431.00px;font-size:13px;line-height:15px;font-weight:normal;color:#000;font-family:'Liberation Sans', Arial, sans-serif;letter-spacing:-0.3px;text-align:right">62%</div>
<div class="t" style="right:562px;top:450.00px;font-size:13px;line-height:15px;font-weight:normal;color:#000;font-family:'Liberation Sans', Arial, sans-serif;letter-spacing:-0.3px;text-align:right">60%</div>
<div class="t" style="right:562px;top:469.00px;font-size:13px;line-height:15px;font-weight:normal;color:#000;font-family:'Liberation Sans', Arial, sans-serif;letter-spacing:-0.3px;text-align:right">2%</div>
<div class="t" style="right:562px;top:488.00px;font-size:13px;line-height:15px;font-weight:normal;color:#000;font-family:'Liberation Sans', Arial, sans-serif;letter-spacing:-0.3px;text-align:right">20%</div>
<div class="t" style="right:562px;top:507.00px;font-size:13px;line-height:15px;font-weight:normal;color:#000;font-family:'Liberation Sans', Arial, sans-serif;letter-spacing:-0.3px;text-align:right">7%</div>
<div class="t" style="right:562px;top:526.00px;font-size:13px;line-height:15px;font-weight:normal;color:#000;font-family:'Liberation Sans', Arial, sans-serif;letter-spacing:-0.3px;text-align:right">59%</div>
<div class="t" style="right:562px;top:545.00px;font-size:13px;line-height:15px;font-weight:normal;color:#000;font-family:'Liberation Sans', Arial, sans-serif;letter-spacing:-0.3px;text-align:right">41%</div>
<div class="t" style="right:562px;top:564.00px;font-size:13px;line-height:15px;font-weight:normal;color:#000;font-family:'Liberation Sans', Arial, sans-serif;letter-spacing:-0.3px;text-align:right">33%</div>
<div class="t" style="right:562px;top:583.00px;font-size:13px;line-height:15px;font-weight:normal;color:#000;font-family:'Liberation Sans', Arial, sans-serif;letter-spacing:-0.3px;text-align:right">65%</div>
<div class="t" style="right:562px;top:602.00px;font-size:13px;line-height:15px;font-weight:normal;color:#000;font-family:'Liberation Sans', Arial, sans-serif;letter-spacing:-0.3px;text-align:right">12%</div>
<div class="t" style="right:562px;top:621.00px;font-size:13px;line-height:15px;font-weight:normal;color:#000;font-family:'Liberation Sans', Arial, sans-serif;letter-spacing:-0.3px;text-align:right">22%</div>
<div class="t" style="right:483px;top:431.00px;font-size:13px;line-height:15px;font-weight:normal;color:#000;font-family:'Liberation Sans', Arial, sans-serif;letter-spacing:-0.3px;text-align:right">65%</div>
<div class="t" style="right:483px;top:450.00px;font-size:13px;line-height:15px;font-weight:normal;color:#000;font-family:'Liberation Sans', Arial, sans-serif;letter-spacing:-0.3px;text-align:right">50%</div>
<div class="t" style="right:483px;top:469.00px;font-size:13px;line-height:15px;font-weight:normal;color:#000;font-family:'Liberation Sans', Arial, sans-serif;letter-spacing:-0.3px;text-align:right">2%</div>
<div class="t" style="right:483px;top:488.00px;font-size:13px;line-height:15px;font-weight:normal;color:#000;font-family:'Liberation Sans', Arial, sans-serif;letter-spacing:-0.3px;text-align:right">25%</div>
<div class="t" style="right:483px;top:507.00px;font-size:13px;line-height:15px;font-weight:normal;color:#000;font-family:'Liberation Sans', Arial, sans-serif;letter-spacing:-0.3px;text-align:right">8%</div>
<div class="t" style="right:483px;top:526.00px;font-size:13px;line-height:15px;font-weight:normal;color:#000;font-family:'Liberation Sans', Arial, sans-serif;letter-spacing:-0.3px;text-align:right">60%</div>
<div class="t" style="right:483px;top:545.00px;font-size:13px;line-height:15px;font-weight:normal;color:#000;font-family:'Liberation Sans', Arial, sans-serif;letter-spacing:-0.3px;text-align:right">45%</div>
<div class="t" style="right:483px;top:564.00px;font-size:13px;line-height:15px;font-weight:normal;color:#000;font-family:'Liberation Sans', Arial, sans-serif;letter-spacing:-0.3px;text-align:right">33%</div>
<div class="t" style="right:483px;top:583.00px;font-size:13px;line-height:15px;font-weight:normal;color:#000;font-family:'Liberation Sans', Arial, sans-serif;letter-spacing:-0.3px;text-align:right">65%</div>
<div class="t" style="right:483px;top:602.00px;font-size:13px;line-height:15px;font-weight:normal;color:#000;font-family:'Liberation Sans', Arial, sans-serif;letter-spacing:-0.3px;text-align:right">15%</div>
<div class="t" style="right:483px;top:621.00px;font-size:13px;line-height:15px;font-weight:normal;color:#000;font-family:'Liberation Sans', Arial, sans-serif;letter-spacing:-0.3px;text-align:right">25%</div>
<div class="t" style="right:369px;top:431.00px;font-size:13px;line-height:15px;font-weight:normal;color:#000;font-family:'Liberation Sans', Arial, sans-serif;letter-spacing:-0.3px;text-align:right">0%</div>
<div class="t" style="right:369px;top:450.00px;font-size:13px;line-height:15px;font-weight:normal;color:#000;font-family:'Liberation Sans', Arial, sans-serif;letter-spacing:-0.3px;text-align:right">0%</div>
<div class="t" style="right:369px;top:469.00px;font-size:13px;line-height:15px;font-weight:normal;color:#000;font-family:'Liberation Sans', Arial, sans-serif;letter-spacing:-0.3px;text-align:right">0%</div>
<div class="t" style="right:369px;top:488.00px;font-size:13px;line-height:15px;font-weight:normal;color:#000;font-family:'Liberation Sans', Arial, sans-serif;letter-spacing:-0.3px;text-align:right">0%</div>
<div class="t" style="right:369px;top:507.00px;font-size:13px;line-height:15px;font-weight:normal;color:#000;font-family:'Liberation Sans', Arial, sans-serif;letter-spacing:-0.3px;text-align:right">0%</div>
<div class="t" style="right:369px;top:526.00px;font-size:13px;line-height:15px;font-weight:normal;color:#000;font-family:'Liberation Sans', Arial, sans-serif;letter-spacing:-0.3px;text-align:right">24%</div>
<div class="t" style="right:369px;top:545.00px;font-size:13px;line-height:15px;font-weight:normal;color:#000;font-family:'Liberation Sans', Arial, sans-serif;letter-spacing:-0.3px;text-align:right">-24%</div>
<div class="t" style="right:369px;top:564.00px;font-size:13px;line-height:15px;font-weight:normal;color:#000;font-family:'Liberation Sans', Arial, sans-serif;letter-spacing:-0.3px;text-align:right">-21%</div>
<div class="t" style="right:369px;top:583.00px;font-size:13px;line-height:15px;font-weight:normal;color:#000;font-family:'Liberation Sans', Arial, sans-serif;letter-spacing:-0.3px;text-align:right">0%</div>
<div class="t" style="right:369px;top:602.00px;font-size:13px;line-height:15px;font-weight:normal;color:#000;font-family:'Liberation Sans', Arial, sans-serif;letter-spacing:-0.3px;text-align:right">0%</div>
<div class="t" style="right:369px;top:621.00px;font-size:13px;line-height:15px;font-weight:normal;color:#000;font-family:'Liberation Sans', Arial, sans-serif;letter-spacing:-0.3px;text-align:right">0%</div>
<div class="t" style="right:290px;top:431.00px;font-size:13px;line-height:15px;font-weight:normal;color:#000;font-family:'Liberation Sans', Arial, sans-serif;letter-spacing:-0.3px;text-align:right">-3%</div>
<div class="t" style="right:290px;top:450.00px;font-size:13px;line-height:15px;font-weight:normal;color:#000;font-family:'Liberation Sans', Arial, sans-serif;letter-spacing:-0.3px;text-align:right">10%</div>
<div class="t" style="right:290px;top:469.00px;font-size:13px;line-height:15px;font-weight:normal;color:#000;font-family:'Liberation Sans', Arial, sans-serif;letter-spacing:-0.3px;text-align:right">0%</div>
<div class="t" style="right:290px;top:488.00px;font-size:13px;line-height:15px;font-weight:normal;color:#000;font-family:'Liberation Sans', Arial, sans-serif;letter-spacing:-0.3px;text-align:right">-5%</div>
<div class="t" style="right:290px;top:507.00px;font-size:13px;line-height:15px;font-weight:normal;color:#000;font-family:'Liberation Sans', Arial, sans-serif;letter-spacing:-0.3px;text-align:right">-1%</div>
<div class="t" style="right:290px;top:526.00px;font-size:13px;line-height:15px;font-weight:normal;color:#000;font-family:'Liberation Sans', Arial, sans-serif;letter-spacing:-0.3px;text-align:right">-1%</div>
<div class="t" style="right:290px;top:545.00px;font-size:13px;line-height:15px;font-weight:normal;color:#000;font-family:'Liberation Sans', Arial, sans-serif;letter-spacing:-0.3px;text-align:right">-4%</div>
<div class="t" style="right:290px;top:564.00px;font-size:13px;line-height:15px;font-weight:normal;color:#000;font-family:'Liberation Sans', Arial, sans-serif;letter-spacing:-0.3px;text-align:right">0%</div>
<div class="t" style="right:290px;top:583.00px;font-size:13px;line-height:15px;font-weight:normal;color:#000;font-family:'Liberation Sans', Arial, sans-serif;letter-spacing:-0.3px;text-align:right">0%</div>
<div class="t" style="right:290px;top:602.00px;font-size:13px;line-height:15px;font-weight:normal;color:#000;font-family:'Liberation Sans', Arial, sans-serif;letter-spacing:-0.3px;text-align:right">-3%</div>
<div class="t" style="right:290px;top:621.00px;font-size:13px;line-height:15px;font-weight:normal;color:#000;font-family:'Liberation Sans', Arial, sans-serif;letter-spacing:-0.3px;text-align:right">-3%</div>
<div class="t" style="right:194px;top:431.00px;font-size:13px;line-height:15px;font-weight:normal;color:#000;font-family:'Liberation Sans', Arial, sans-serif;letter-spacing:-0.3px;text-align:right">60%</div>
<div class="t" style="right:194px;top:450.00px;font-size:13px;line-height:15px;font-weight:normal;color:#000;font-family:'Liberation Sans', Arial, sans-serif;letter-spacing:-0.3px;text-align:right">56%</div>
<div class="t" style="right:194px;top:469.00px;font-size:13px;line-height:15px;font-weight:normal;color:#000;font-family:'Liberation Sans', Arial, sans-serif;letter-spacing:-0.3px;text-align:right">4%</div>
<div class="t" style="right:194px;top:488.00px;font-size:13px;line-height:15px;font-weight:normal;color:#000;font-family:'Liberation Sans', Arial, sans-serif;letter-spacing:-0.3px;text-align:right">15%</div>
<div class="t" style="right:194px;top:507.00px;font-size:13px;line-height:15px;font-weight:normal;color:#000;font-family:'Liberation Sans', Arial, sans-serif;letter-spacing:-0.3px;text-align:right">12%</div>
<div class="t" style="right:194px;top:526.00px;font-size:13px;line-height:15px;font-weight:normal;color:#000;font-family:'Liberation Sans', Arial, sans-serif;letter-spacing:-0.3px;text-align:right">10%</div>
<div class="t" style="right:194px;top:545.00px;font-size:13px;line-height:15px;font-weight:normal;color:#000;font-family:'Liberation Sans', Arial, sans-serif;letter-spacing:-0.3px;text-align:right">90%</div>
<div class="t" style="right:194px;top:564.00px;font-size:13px;line-height:15px;font-weight:normal;color:#000;font-family:'Liberation Sans', Arial, sans-serif;letter-spacing:-0.3px;text-align:right">50%</div>
<div class="t" style="right:194px;top:583.00px;font-size:13px;line-height:15px;font-weight:normal;color:#000;font-family:'Liberation Sans', Arial, sans-serif;letter-spacing:-0.3px;text-align:right">50%</div>
<div class="t" style="right:194px;top:602.00px;font-size:13px;line-height:15px;font-weight:normal;color:#000;font-family:'Liberation Sans', Arial, sans-serif;letter-spacing:-0.3px;text-align:right">2%</div>
<div class="t" style="right:194px;top:621.00px;font-size:13px;line-height:15px;font-weight:normal;color:#000;font-family:'Liberation Sans', Arial, sans-serif;letter-spacing:-0.3px;text-align:right">15%</div>
<div class="t" style="right:132px;top:431.00px;font-size:13px;line-height:15px;font-weight:normal;color:#000;font-family:'Liberation Sans', Arial, sans-serif;letter-spacing:-0.3px;text-align:right">70%</div>
<div class="t" style="right:132px;top:450.00px;font-size:13px;line-height:15px;font-weight:normal;color:#000;font-family:'Liberation Sans', Arial, sans-serif;letter-spacing:-0.3px;text-align:right">58%</div>
<div class="t" style="right:132px;top:469.00px;font-size:13px;line-height:15px;font-weight:normal;color:#000;font-family:'Liberation Sans', Arial, sans-serif;letter-spacing:-0.3px;text-align:right">3%</div>
<div class="t" style="right:132px;top:488.00px;font-size:13px;line-height:15px;font-weight:normal;color:#000;font-family:'Liberation Sans', Arial, sans-serif;letter-spacing:-0.3px;text-align:right">10%</div>
<div class="t" style="right:132px;top:507.00px;font-size:13px;line-height:15px;font-weight:normal;color:#000;font-family:'Liberation Sans', Arial, sans-serif;letter-spacing:-0.3px;text-align:right">10%</div>
<div class="t" style="right:132px;top:526.00px;font-size:13px;line-height:15px;font-weight:normal;color:#000;font-family:'Liberation Sans', Arial, sans-serif;letter-spacing:-0.3px;text-align:right">12%</div>
<div class="t" style="right:132px;top:545.00px;font-size:13px;line-height:15px;font-weight:normal;color:#000;font-family:'Liberation Sans', Arial, sans-serif;letter-spacing:-0.3px;text-align:right">88%</div>
<div class="t" style="right:132px;top:564.00px;font-size:13px;line-height:15px;font-weight:normal;color:#000;font-family:'Liberation Sans', Arial, sans-serif;letter-spacing:-0.3px;text-align:right">40%</div>
<div class="t" style="right:132px;top:583.00px;font-size:13px;line-height:15px;font-weight:normal;color:#000;font-family:'Liberation Sans', Arial, sans-serif;letter-spacing:-0.3px;text-align:right">60%</div>
<div class="t" style="right:132px;top:602.00px;font-size:13px;line-height:15px;font-weight:normal;color:#000;font-family:'Liberation Sans', Arial, sans-serif;letter-spacing:-0.3px;text-align:right">7%</div>
<div class="t" style="right:132px;top:621.00px;font-size:13px;line-height:15px;font-weight:normal;color:#000;font-family:'Liberation Sans', Arial, sans-serif;letter-spacing:-0.3px;text-align:right">48%</div>
<div class="t" style="right:70px;top:431.00px;font-size:13px;line-height:15px;font-weight:normal;color:#000;font-family:'Liberation Sans', Arial, sans-serif;letter-spacing:-0.3px;text-align:right">55%</div>
<div class="t" style="right:70px;top:450.00px;font-size:13px;line-height:15px;font-weight:normal;color:#000;font-family:'Liberation Sans', Arial, sans-serif;letter-spacing:-0.3px;text-align:right">55%</div>
<div class="t" style="right:70px;top:469.00px;font-size:13px;line-height:15px;font-weight:normal;color:#000;font-family:'Liberation Sans', Arial, sans-serif;letter-spacing:-0.3px;text-align:right">2%</div>
<div class="t" style="right:70px;top:488.00px;font-size:13px;line-height:15px;font-weight:normal;color:#000;font-family:'Liberation Sans', Arial, sans-serif;letter-spacing:-0.3px;text-align:right">14%</div>
<div class="t" style="right:70px;top:507.00px;font-size:13px;line-height:15px;font-weight:normal;color:#000;font-family:'Liberation Sans', Arial, sans-serif;letter-spacing:-0.3px;text-align:right">6%</div>
<div class="t" style="right:70px;top:526.00px;font-size:13px;line-height:15px;font-weight:normal;color:#000;font-family:'Liberation Sans', Arial, sans-serif;letter-spacing:-0.3px;text-align:right">15%</div>
<div class="t" style="right:70px;top:545.00px;font-size:13px;line-height:15px;font-weight:normal;color:#000;font-family:'Liberation Sans', Arial, sans-serif;letter-spacing:-0.3px;text-align:right">75%</div>
<div class="t" style="right:70px;top:564.00px;font-size:13px;line-height:15px;font-weight:normal;color:#000;font-family:'Liberation Sans', Arial, sans-serif;letter-spacing:-0.3px;text-align:right">50%</div>
<div class="t" style="right:70px;top:583.00px;font-size:13px;line-height:15px;font-weight:normal;color:#000;font-family:'Liberation Sans', Arial, sans-serif;letter-spacing:-0.3px;text-align:right">50%</div>
<div class="t" style="right:70px;top:602.00px;font-size:13px;line-height:15px;font-weight:normal;color:#000;font-family:'Liberation Sans', Arial, sans-serif;letter-spacing:-0.3px;text-align:right">6%</div>
<div class="t" style="right:70px;top:621.00px;font-size:13px;line-height:15px;font-weight:normal;color:#000;font-family:'Liberation Sans', Arial, sans-serif;letter-spacing:-0.3px;text-align:right">25%</div>
<div style="left:396px;top:198px;width:78px;height:18px;border:2px solid #217346"></div>
<div style="left:473px;top:215px;width:7px;height:7px;background:#fff;"></div>
<div style="left:474px;top:216px;width:5px;height:5px;background:#217346;"></div>
</body></html>
